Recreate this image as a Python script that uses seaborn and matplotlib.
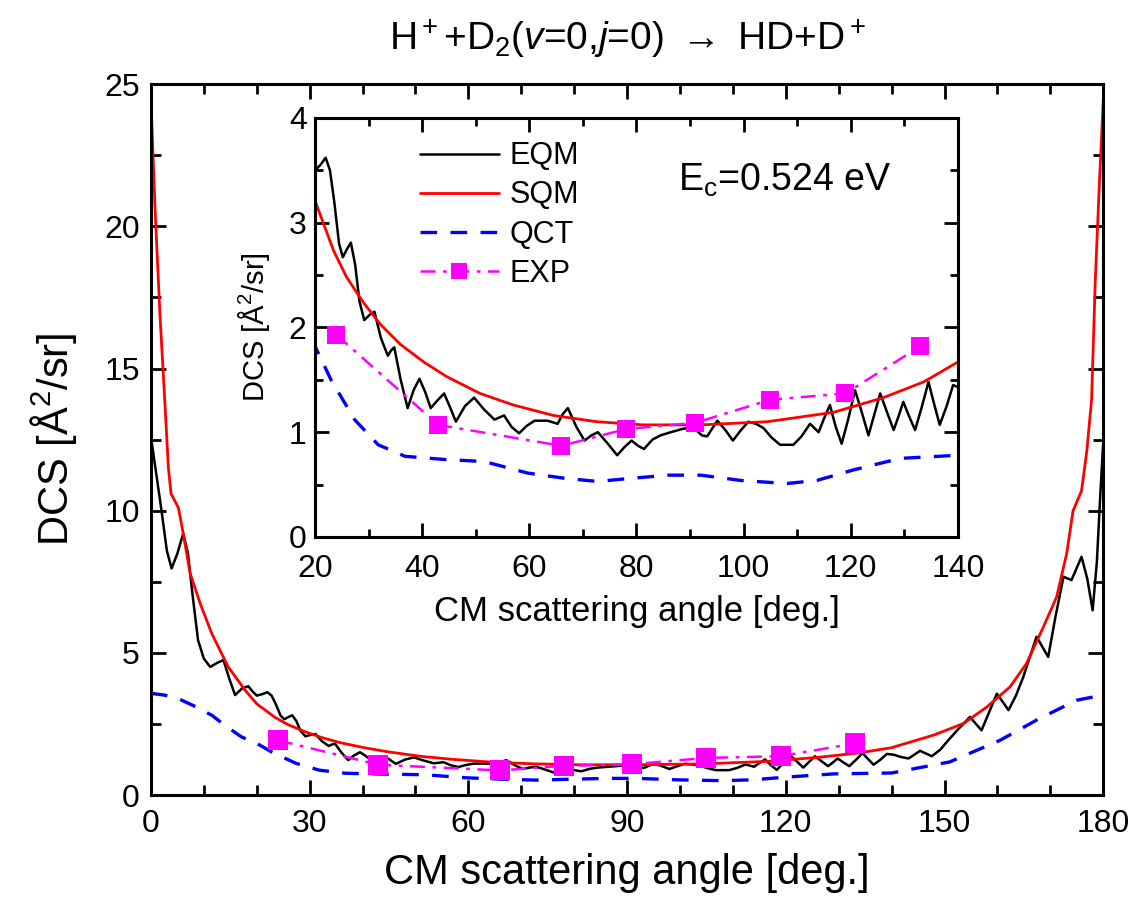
import numpy as np
import pandas as pd
import matplotlib
matplotlib.use("Agg")
import matplotlib.pyplot as plt
from matplotlib.ticker import MultipleLocator
from matplotlib.lines import Line2D
import seaborn as sns

# ---------------- data ----------------
eqm_angle = [0, 1, 2, 3, 3.9, 5, 6.1, 7, 7.7, 8.9, 10, 11.2, 12.5, 13.7, 14.8, 15.9,
             17.2, 18.4, 19.2, 20, 21, 22, 22.8, 23.6, 24.5, 25.2, 26, 26.7, 27.5,
             28.3, 29.2, 30.2, 31.1, 32.3, 33.6, 34.2, 34.8, 36, 37.3, 38.4, 39.5,
             40.6, 41.6, 42.8, 44.1, 45.2, 46.3, 48, 49.7, 51.5, 53.5, 55.3, 56.7,
             58.1, 59.5, 61, 63.4, 65.3, 66.2, 67.2, 68.8, 70.3, 71.6, 72.8, 74.5,
             76.4, 77.8, 79.1, 80.3, 81.4, 83, 84.5, 86.4, 88.5, 90.5, 92.2, 93.2,
             94.2, 95.1, 96.6, 98, 99.5, 100.9, 102.3, 103.7, 105.2, 106.8, 109.3,
             110.8, 112.4, 114, 115, 116.1, 117.2, 118.3, 119.5, 120.8, 122, 123.3,
             124.4, 125.5, 126.7, 128, 128.9, 129.8, 130.9, 132, 133.3, 134.5, 135.5,
             136.6, 137.9, 139.1, 140.5, 141.6, 143.2, 145.4, 147.6, 149.2, 150.7,
             152.5, 154.8, 157, 158.4, 159.9, 162.1, 163.5, 164.9, 166.2, 167.4,
             169.6, 171, 172.5, 174, 175.9, 177, 178, 178.8, 179.4, 180]
eqm_dcs = [12.6, 11.3, 10.0, 8.6, 7.97, 8.5, 9.2, 8.5, 7.3, 5.45, 4.8, 4.51, 4.65, 4.75,
           4.1, 3.52, 3.75, 3.83, 3.65, 3.5, 3.55, 3.62, 3.5, 3.2, 2.8, 2.67, 2.75,
           2.81, 2.6, 2.25, 2.07, 2.12, 2.15, 1.9, 1.73, 1.78, 1.81, 1.5, 1.23, 1.4,
           1.51, 1.38, 1.23, 1.3, 1.37, 1.24, 1.10, 1.25, 1.33, 1.22, 1.12, 1.16,
           1.05, 0.99, 1.06, 1.11, 1.11, 1.08, 1.17, 1.23, 1.05, 0.92, 0.97, 1.00,
           0.9, 0.78, 0.86, 0.92, 0.87, 0.84, 0.93, 0.97, 1.0, 1.03, 1.05, 0.97,
           0.96, 1.04, 1.11, 1.02, 0.92, 1.02, 1.10, 1.08, 1.04, 0.95, 0.88, 0.88,
           0.96, 1.08, 1.00, 1.13, 1.26, 1.05, 0.89, 1.12, 1.40, 1.2, 0.97, 1.17,
           1.37, 1.2, 1.02, 1.15, 1.29, 1.15, 1.02, 1.25, 1.48, 1.28, 1.07, 1.25,
           1.45, 1.42, 1.35, 1.29, 1.56, 1.37, 1.6, 1.93, 2.3, 2.75, 2.28, 2.9,
           3.57, 2.99, 3.5, 4.16, 4.9, 5.57, 4.86, 6.3, 7.68, 7.56, 8.38, 7.6, 6.5,
           8.2, 10.4, 12.4]

sqm_angle = [0, 0.8, 1.7, 2.6, 3.3, 3.8, 5.2, 6.1, 7.4, 9.3, 11.5, 14.6, 17.8, 20,
             23.5, 25.9, 29, 32.2, 35.9, 40.3, 44.6, 50.8, 57, 64.5, 72.6, 81.2, 92,
             104.4, 116.8, 126.1, 133.6, 140, 147.9, 153.6, 158, 162.4, 165.5, 168.7,
             171.2, 173.1, 174.3, 175.9, 176.9, 177.8, 178.5, 179.3, 180]
sqm_dcs = [24.4, 20.5, 16.9, 13.9, 11.5, 10.6, 10.1, 9.2, 7.8, 6.74, 5.68, 4.51, 3.69,
           3.21, 2.73, 2.48, 2.24, 2.03, 1.84, 1.67, 1.53, 1.37, 1.26, 1.16, 1.10,
           1.07, 1.07, 1.10, 1.19, 1.33, 1.48, 1.67, 2.11, 2.52, 3.1, 3.81, 4.63,
           5.92, 6.97, 8.5, 10.0, 10.7, 12.1, 13.9, 18.1, 21.6, 24.4]

qct_angle = [0, 2.5, 5.1, 8, 11.5, 14, 17.1, 20.2, 23, 27.4, 31.8, 36.8, 44.1, 51.6,
             59.7, 66.6, 72.8, 79, 86, 92, 99.4, 108, 113.7, 120.5, 129.2, 140, 151,
             160.5, 168, 175, 180]
qct_dcs = [3.58, 3.52, 3.4, 3.15, 2.81, 2.45, 2.05, 1.80, 1.50, 1.12, 0.88, 0.77, 0.74,
           0.72, 0.61, 0.56, 0.53, 0.56, 0.59, 0.59, 0.54, 0.51, 0.54, 0.64, 0.75,
           0.78, 1.17, 1.93, 2.7, 3.34, 3.52]

exp_angle = [24, 43, 66, 78, 91, 105, 119, 133]
exp_dcs = [1.93, 1.07, 0.87, 1.03, 1.09, 1.31, 1.37, 1.82]

main_xticks = [0, 30, 60, 90, 120, 150, 180]
main_yticks = [0, 5, 10, 15, 20, 25]
inset_xticks = [20, 40, 60, 80, 100, 120, 140]
inset_yticks = [0, 1, 2, 3, 4]

eqm = pd.DataFrame({"angle": eqm_angle, "dcs": eqm_dcs})
sqm = pd.DataFrame({"angle": sqm_angle, "dcs": sqm_dcs})
qct = pd.DataFrame({"angle": qct_angle, "dcs": qct_dcs})
expd = pd.DataFrame({"angle": exp_angle, "dcs": exp_dcs})

# ---------------- style ----------------
sns.set_style("ticks")
plt.rcParams["font.family"] = ["Liberation Sans", "DejaVu Sans"]
plt.rcParams["mathtext.fontset"] = "custom"
plt.rcParams["mathtext.rm"] = "Liberation Sans"
plt.rcParams["mathtext.it"] = "Liberation Sans:italic"
plt.rcParams["mathtext.bf"] = "Liberation Sans:bold"
plt.rcParams["xtick.direction"] = "in"
plt.rcParams["ytick.direction"] = "in"
for k in ["text.color", "axes.labelcolor", "xtick.color", "ytick.color",
          "axes.edgecolor"]:
    plt.rcParams[k] = "black"

BLACK = "#000000"
RED = "#ff0000"
BLUE = "#0000ff"
MAG = "#ff00ff"

fig = plt.figure(figsize=(11.35, 9.14), dpi=100)
ax = fig.add_axes([0.133, 0.130, 0.839, 0.778])
axi = fig.add_axes([0.2775, 0.4125, 0.5665, 0.4585])


def draw(a, ms=15):
    sns.lineplot(data=eqm, x="angle", y="dcs", ax=a, color=BLACK, lw=1.8,
                 sort=False, estimator=None)
    sns.lineplot(data=sqm, x="angle", y="dcs", ax=a, color=RED, lw=2.0,
                 sort=False, estimator=None)
    sns.lineplot(data=qct, x="angle", y="dcs", ax=a, color=BLUE, lw=2.4,
                 sort=False, estimator=None, dashes=False, linestyle=(0, (5, 4)))
    sns.lineplot(data=expd, x="angle", y="dcs", ax=a, color=MAG, lw=1.8,
                 sort=False, estimator=None, linestyle=(0, (6, 3, 1.5, 3)),
                 marker="s", markersize=ms, markeredgewidth=0, markerfacecolor=MAG)


draw(ax, ms=15)
draw(axi, ms=13)

# main axes
ax.set_xlim(0, 180)
ax.set_ylim(0, 25)
ax.set_xticks(main_xticks)
ax.set_yticks(main_yticks)
ax.xaxis.set_minor_locator(MultipleLocator(10))
ax.yaxis.set_minor_locator(MultipleLocator(2.5))
ax.tick_params(which="both", top=True, right=True, width=2, labelsize=23)
ax.tick_params(which="major", length=11)
ax.tick_params(which="minor", length=7)
ax.tick_params(axis="x", pad=10)
ax.tick_params(axis="y", pad=8)
for s in ax.spines.values():
    s.set_linewidth(2.2)
ax.set_xlabel("CM scattering angle [deg.]", fontsize=30, labelpad=10)
ax.set_ylabel("DCS [Å$^2$/sr]", fontsize=30, labelpad=18)
ax.set_title("H$^+$+D$_2$($\\it{v}$=0,$\\it{j}$=0) $\\rightarrow$ HD+D$^+$",
             fontsize=28, pad=24)

# inset axes
axi.set_xlim(20, 140)
axi.set_ylim(0, 4)
axi.set_xticks(inset_xticks)
axi.set_yticks(inset_yticks)
axi.xaxis.set_minor_locator(MultipleLocator(10))
axi.yaxis.set_minor_locator(MultipleLocator(0.5))
axi.tick_params(which="both", top=True, right=True, width=2, labelsize=23)
axi.tick_params(which="major", length=10)
axi.tick_params(which="minor", length=6)
axi.tick_params(axis="x", pad=12)
axi.tick_params(axis="y", pad=6)
for s in axi.spines.values():
    s.set_linewidth(2.2)
axi.set_xlabel("CM scattering angle [deg.]", fontsize=25, labelpad=8)
axi.set_ylabel("DCS [Å$^2$/sr]", fontsize=21, labelpad=12)
axi.text(0.565, 0.85, "E$_\\mathrm{c}$=0.524 eV", transform=axi.transAxes,
         fontsize=27, ha="left", va="center")

handles = [
    Line2D([], [], color=BLACK, lw=1.8),
    Line2D([], [], color=RED, lw=2.0),
    Line2D([], [], color=BLUE, lw=2.4, linestyle=(0, (5, 4))),
    Line2D([], [], color=MAG, lw=1.8, linestyle=(0, (6, 3, 1.5, 3)), marker="s",
           markersize=11, markeredgewidth=0),
]
axi.legend(handles, ["EQM", "SQM", "QCT", "EXP"], loc="upper left",
           bbox_to_anchor=(0.12, 1.01), frameon=False, fontsize=22,
           handlelength=2.6, handletextpad=0.35, labelspacing=0.3)

fig.savefig("out.png", dpi=100)
